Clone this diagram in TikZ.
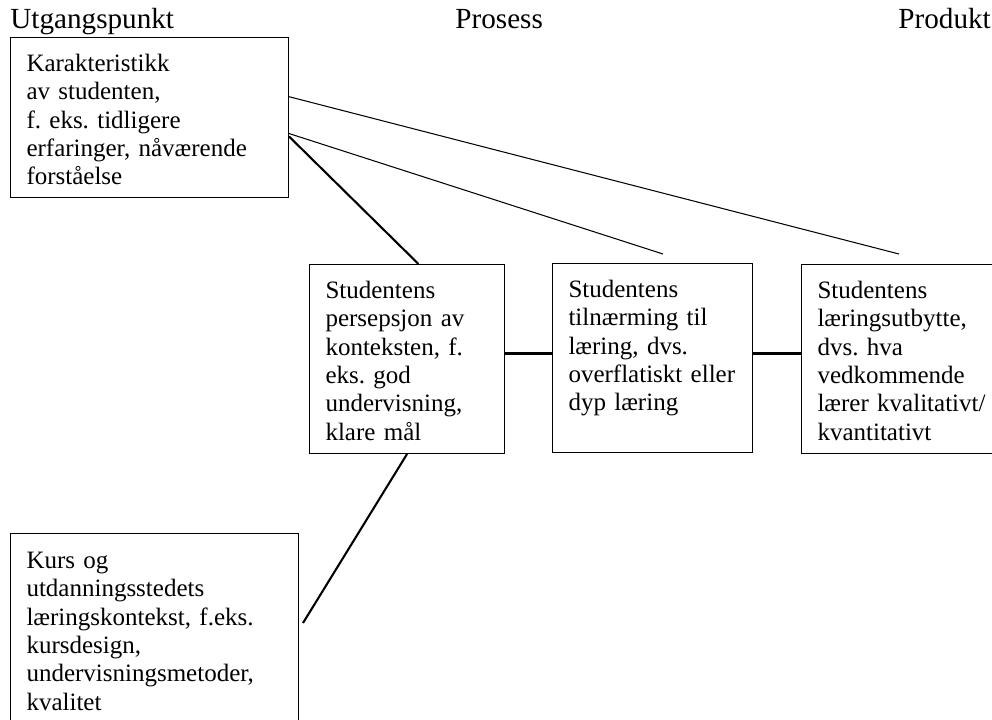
\documentclass[tikz,border=0pt]{standalone}
\usepackage{fontspec}
\setmainfont{Liberation Serif}
\usetikzlibrary{positioning}
\frenchspacing

\tikzset{
    box/.style={draw, line width=0.5pt, align=left, anchor=north west,
        inner xsep=7.68pt, inner ysep=0pt, text height=16.3pt,
        font=\fontsize{12}{13.6}\selectfont},
    head/.style={anchor=base west, inner sep=0pt, font=\fontsize{14}{16}\selectfont},
    thinline/.style={line width=0.5pt},
    thickline/.style={line width=1pt}
}

\begin{document}
\begin{tikzpicture}[x=0.48pt, y=-0.48pt]
    \clip (0,0) rectangle (992,719);

    % column headings
    \node[head] (utg)  at (10,28)  {Utgangspunkt};
    \node[head] (pros) at (455,28) {Prosess};
    \node[head] (prod) at (898,28) {Produkt};

    % boxes
    \node[box, text width=118.08pt, text depth=60.5pt] (kar) at (10,37)
        {Karakteristikk\\ av studenten,\\ f. eks. tidligere\\ erfaringer, nåværende\\ forståelse};
    \node[box, text width=78.24pt, text depth=74.42pt] (pers) at (309,264)
        {Studentens\\ persepsjon av\\ konteksten, f.\\ eks. god\\ undervisning,\\ klare mål};
    \node[box, text width=80.64pt, text depth=74.42pt] (til) at (552,263)
        {Studentens\\ tilnærming til\\ læring, dvs.\\ overflatiskt eller\\ dyp læring};
    \node[box, text width=85pt, text depth=74.42pt] (utb) at (801,264)
        {Studentens\\ læringsutbytte,\\ dvs. hva\\ vedkommende\\ lærer kvalitativt/\\ kvantitativt};
    \node[box, text width=122.88pt, text depth=98.4pt, text height=16.8pt] (kurs) at (10,533)
        {Kurs og\\ utdanningsstedets\\ læringskontekst, f.eks.\\ kursdesign,\\ undervisningsmetoder,\\ kvalitet};

    % free ends
    \coordinate (endtil)  at (663,254);
    \coordinate (endutb)  at (899,254);
    \coordinate (endkurs) at (303,623);

    \draw[thinline] ([yshift=10pt]kar.east) -- (endutb);
    \draw[thinline] ([yshift=-7.68pt]kar.east) -- (endtil);
    \draw[thickline] ([yshift=-9.1pt]kar.east) -- ([xshift=5.5pt]pers.north);
    \draw[thickline] ([yshift=2.64pt]pers.east) -- ([yshift=2.16pt]til.west);
    \draw[thickline] ([yshift=2.16pt]til.east) -- ([yshift=2.64pt]utb.west);
    \draw[thickline] (pers.south) -- (endkurs);
\end{tikzpicture}
\end{document}
